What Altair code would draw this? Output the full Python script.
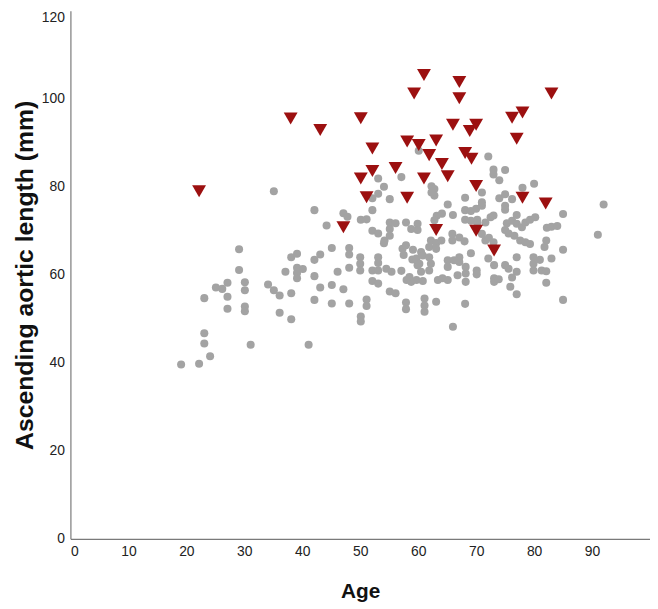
import altair as alt
import pandas as pd

# Grey circles (age, ascending aortic length)
grey_age = [
    19.1, 22.2, 23.1, 23.1, 24.1, 23.1, 25.1, 26.2, 27.1, 27.1,
    27.1, 29.1, 29.1, 30.1, 30.1, 30.1, 30.1, 31.1, 34.1, 35.1,
    35.1, 36.1, 36.1, 37.1, 38.1, 38.1, 38.1, 39.1, 39.1, 40.1,
    39.1, 39.1, 41.1,
    42.1, 42.1, 42.1, 42.1, 43.1, 43.1, 44.2, 45.1, 45.1, 45.1,
    46.1, 47.1, 47.8, 47.1, 48.1, 48.1, 48.1, 48.1,
    50.1, 51.1, 50.0, 50.0, 50.0, 50.1, 50.1, 51.1, 51.1, 52.1,
    52.1, 52.1, 52.1, 52.1, 53.1, 53.1, 53.1, 53.1, 53.1, 53.1,
    53.1, 54.1, 54.2, 54.1, 54.5,
    55.1, 55.1, 55.1, 55.1, 56.1, 56.1, 57.1, 57.1, 57.3, 57.9,
    57.5, 57.9, 57.9, 57.9, 58.0, 58.8, 59.1, 59.0, 59.7, 59.9,
    59.9, 55.1, 58.8, 55.4, 59.9, 58.5,
    60.1, 60.5, 60.5, 59.7, 60.2, 60.8, 61.9, 61.9, 60.8, 61.1,
    61.1, 61.1, 62.3, 62.8, 62.3, 62.8, 62.2, 63.1, 64.0, 63.2,
    64.1, 62.8, 63.1, 63.4, 64.2, 61.9, 63.1, 62.2,
    65.1, 65.1, 65.1, 65.1, 65.9, 65.9, 66.0, 66.0, 67.1, 67.1,
    67.1, 68.1, 68.1, 69.1, 68.1, 69.1, 68.2, 68.2, 68.2, 68.1,
    69.1, 68.0, 66.2, 66.8,
    70.0, 71.0, 71.0, 71.0, 70.2, 70.2, 71.6, 72.5, 73.0, 70.1,
    70.1, 71.0, 71.6, 72.2, 73.0, 72.1, 73.1, 73.1, 73.1, 73.9,
    72.1, 73.0, 73.0, 74.0, 74.0,
    75.0, 75.0, 76.2, 75.0, 75.0, 75.3, 76.2, 77.0, 77.0, 77.9,
    78.5, 79.3, 75.0, 75.6, 76.6, 77.6, 78.5, 79.3, 75.0, 75.6,
    77.0, 76.2, 75.9, 77.0, 77.0, 78.0,
    80.0, 80.2, 79.9, 79.9, 79.9, 81.3, 81.8, 82.2, 83.0, 84.0,
    82.1, 85.0, 85.0, 81.0, 83.0, 82.1, 82.1, 85.0, 91.0, 92.0,
]
grey_len = [
    39.6, 39.8, 44.4, 46.7, 41.5, 54.7, 57.1, 56.8, 58.2, 55.0,
    52.3, 65.8, 61.1, 58.3, 56.5, 52.8, 51.7, 44.1, 57.8, 79.0,
    56.5, 55.3, 51.4, 60.7, 55.8, 49.9, 64.0, 64.8, 61.6, 61.3,
    60.4, 59.2, 44.1,
    74.7, 63.4, 59.7, 54.3, 57.1, 64.6, 71.2, 66.1, 57.7, 53.5,
    60.7, 74.0, 73.2, 56.7, 66.1, 64.6, 61.6, 53.5,
    72.5, 72.6, 64.0, 62.5, 61.0, 50.5, 49.4, 54.4, 52.9, 77.4,
    74.7, 70.0, 61.0, 58.6, 81.9, 78.4, 69.4, 64.0, 62.7, 61.0,
    58.0, 80.0, 67.8, 67.2, 61.4,
    77.2, 71.9, 68.9, 56.2, 71.7, 55.8, 82.2, 60.9, 65.9, 66.7,
    64.5, 71.9, 53.7, 52.2, 58.8, 58.4, 65.7, 63.5, 58.8, 71.6,
    70.2, 70.4, 70.4, 60.7, 62.2, 59.5,
    88.2, 65.2, 60.7, 63.7, 62.5, 64.4, 64.0, 61.0, 58.6, 54.6,
    53.0, 51.6, 80.1, 79.5, 78.7, 78.0, 67.8, 67.2, 67.8, 73.4,
    73.9, 72.4, 53.9, 58.8, 59.2, 66.3, 65.9, 62.5,
    58.8, 76.0, 63.3, 61.8, 67.8, 69.3, 73.6, 48.2, 68.5, 64.0,
    62.9, 77.5, 74.7, 74.5, 72.5, 72.3, 61.8, 60.3, 58.4, 53.4,
    64.9, 67.6, 63.3, 59.9,
    75.0, 75.7, 76.5, 78.7, 72.5, 71.6, 71.9, 73.1, 73.5, 61.0,
    60.1, 69.3, 67.8, 68.4, 67.4, 63.7, 62.2, 59.2, 58.4, 59.0,
    86.9, 83.9, 82.8, 81.5, 77.4,
    83.8, 78.3, 77.2, 75.7, 74.8, 71.7, 72.3, 71.6, 73.6, 70.8,
    71.9, 72.5, 70.2, 69.4, 68.9, 67.8, 67.4, 67.0, 62.2, 61.4,
    60.7, 59.4, 57.3, 55.6, 64.0, 79.8,
    80.7, 73.1, 64.0, 62.5, 61.0, 61.0, 66.3, 70.7, 70.9, 71.1,
    67.8, 73.8, 65.7, 63.4, 63.7, 60.8, 58.2, 54.3, 69.1, 76.0,
]

# Red triangles
tri_age = [
    22.2, 38.0, 43.1, 47.1, 50.1, 50.1, 51.1, 52.1, 52.1, 56.1,
    58.1, 58.1, 59.3, 60.1, 61.0, 61.0, 61.9, 63.1, 63.1, 64.1,
    65.1, 66.0, 67.1, 67.1, 68.1, 69.2, 68.9, 70.0, 70.0, 70.0,
    73.1, 76.2, 78.0, 77.0, 78.0, 82.0, 83.0,
]
tri_len = [
    79.0, 95.5, 92.9, 70.8, 95.6, 81.9, 77.6, 88.7, 83.6, 84.3,
    90.3, 77.5, 101.2, 89.5, 105.4, 81.9, 87.2, 90.5, 70.2, 85.2,
    82.4, 94.1, 103.8, 100.1, 87.7, 86.4, 92.7, 94.1, 80.2, 70.0,
    65.5, 95.7, 96.9, 90.9, 77.5, 76.2, 101.2,
]

x_ticks = [0, 10, 20, 30, 40, 50, 60, 70, 80, 90]
y_ticks = [0, 20, 40, 60, 80, 100, 120]

grey_df = pd.DataFrame({"Age": grey_age, "Len": grey_len})
tri_df = pd.DataFrame({"Age": tri_age, "Len": tri_len})

x_enc = alt.X(
    "Age:Q",
    scale=alt.Scale(domain=[0, 100], nice=False, zero=False),
    axis=alt.Axis(values=x_ticks, title="Age", format="d"),
)
y_enc = alt.Y(
    "Len:Q",
    scale=alt.Scale(domain=[0, 120], nice=False),
    axis=alt.Axis(
        values=y_ticks,
        title="Ascending aortic length (mm)",
        format="d",
        labelBaseline=alt.condition(
            "datum.value == 120", alt.value("top"), alt.value("middle")
        ),
    ),
)

grey = alt.Chart(grey_df).mark_point(
    shape="circle", filled=True, size=66, color="#a3a3a3", opacity=1
).encode(x=x_enc, y=y_enc)

tri = alt.Chart(tri_df).mark_point(
    shape="triangle-down", filled=True, size=196, color="#9c1010", opacity=1
).encode(x=x_enc, y=y_enc)

chart = (
    alt.layer(grey, tri)
    .properties(
        width=585,
        height=533,
        autosize="none",
        padding={"left": 63, "top": 0, "right": 0, "bottom": 68},
    )
    .configure_view(stroke=None)
    .configure_axis(
        grid=False,
        ticks=False,
        domainColor="#7a7a7a",
        domainWidth=1.2,
        labelFont="Liberation Sans",
        labelFontSize=14,
        labelColor="#222222",
        titleFont="Liberation Sans",
        titleFontWeight="bold",
        titleColor="#111111",
    )
    .configure_axisX(labelPadding=6, titleFontSize=21, titlePadding=22)
    .configure_axisY(labelPadding=6, titleFontSize=25, titlePadding=4)
)

chart.save("out.html", embed_options={"renderer": "svg", "actions": False})
